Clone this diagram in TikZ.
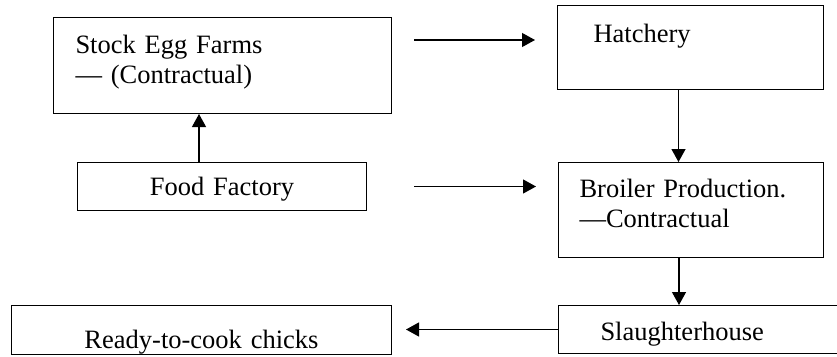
\documentclass[tikz,border=0pt]{standalone}
\usepackage{fontspec}
\setmainfont{Liberation Serif}
\usetikzlibrary{arrows.meta}
\tikzstyle{box}     = [rectangle, draw=black, line width=1pt, anchor=north west, inner ysep=0pt, minimum height=0pt, font=\fontsize{26.5}{30}\selectfont]
\tikzstyle{leftbox} = [box, align=left]
\tikzstyle{midbox}  = [box, align=center]
\tikzstyle{flow}    = [line width=1.2pt, -{Triangle[length=13pt,width=14pt]}]

\begin{document}
\begin{tikzpicture}[x=1pt,y=-1pt]
        \useasboundingbox (0,0) rectangle (837,356);
        \clip (0,0) rectangle (837,356);

        \node[leftbox, inner xsep=22pt, text width=294pt, text height=36pt, text depth=60pt] (stock) at (53,17) {Stock Egg Farms\\— (Contractual)};
        \node[leftbox, inner xsep=36pt, text width=194pt, text height=37pt, text depth=47pt] (hatch) at (557,5) {Hatchery};
        \node[midbox, inner xsep=10pt, text width=269pt, text height=33pt, text depth=15pt] (food) at (77,162) {Food Factory};
        \node[leftbox, inner xsep=21pt, text width=223pt, text height=35pt, text depth=60pt] (broil) at (558,162) {Broiler Production.\\—Contractual};
        \node[leftbox, inner xsep=42pt, text width=208pt, text height=35pt, text depth=13pt] (slaugh) at (558,305) {Slaughterhouse};
        \node[midbox, inner xsep=10pt, text width=360pt, text height=43pt, text depth=6pt] (ready) at (11,305) {Ready-to-cook chicks};

        \draw[flow] ([xshift=-23pt]food.north) -- ([xshift=-23pt]food.north |- stock.south);
        \draw[flow, shorten <=22pt, shorten >=22pt] ([yshift=-23pt]stock.north east) -- ([yshift=-23pt]stock.north east -| hatch.west);
        \draw[flow, shorten <=47pt, shorten >=22pt] (food.east) -- (food.east -| broil.west);
        \draw[flow] ([xshift=-12pt]hatch.south) -- ([xshift=-12pt]hatch.south |- broil.north);
        \draw[flow] ([xshift=-12pt]broil.south) -- ([xshift=-12pt]broil.south |- slaugh.north);
        \draw[flow, shorten >=14pt] (slaugh.west) -- (slaugh.west -| ready.east);
\end{tikzpicture}
\end{document}
